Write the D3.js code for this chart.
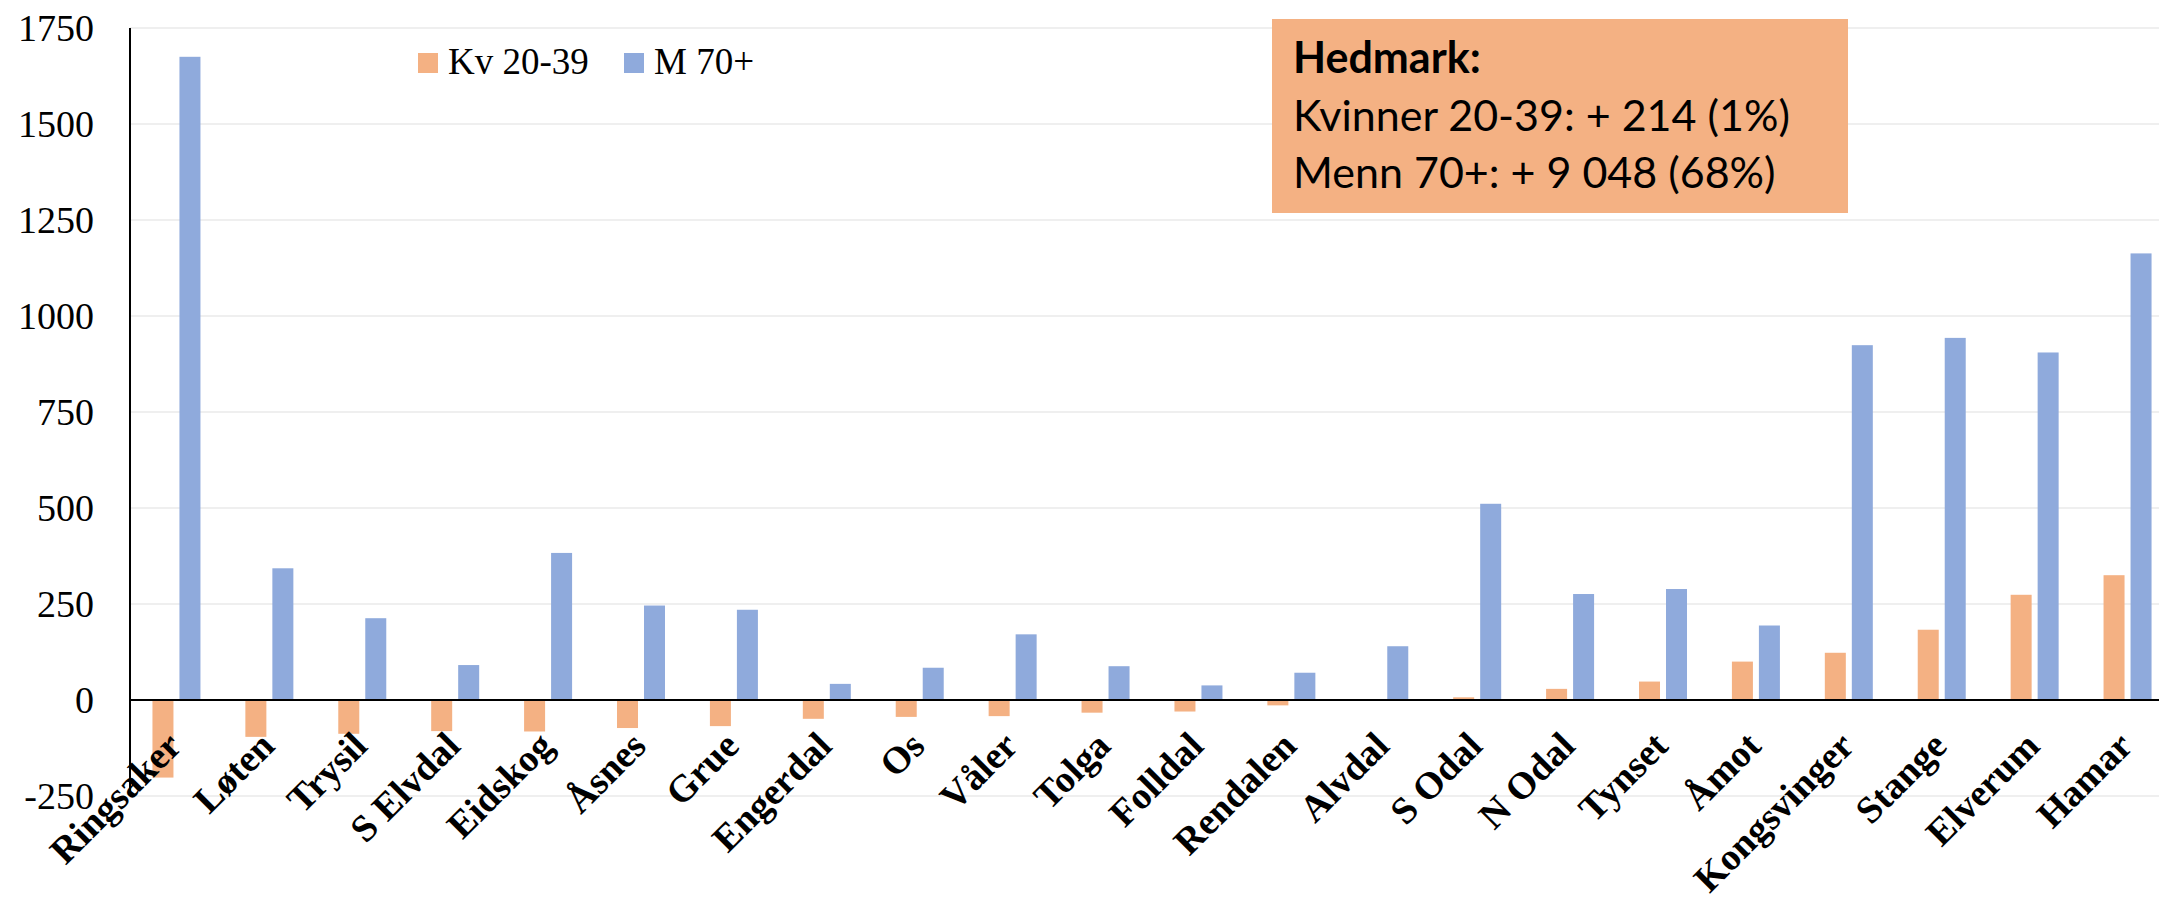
<!DOCTYPE html>
<html>
<head>
<meta charset="utf-8">
<script src="https://cdn.jsdelivr.net/npm/d3@7.9.0/dist/d3.min.js"></script>
<style>
  html, body { margin: 0; padding: 0; background: #fff; }
  svg { display: block; }
</style>
</head>
<body>
<svg id="chart" width="2159" height="899"></svg>
<script>
// categories (kommuner) and values
const kommuner = ["Ringsaker", "Løten", "Trysil", "S Elvdal", "Eidskog", "Åsnes", "Grue",
  "Engerdal", "Os", "Våler", "Tolga", "Folldal", "Rendalen", "Alvdal", "S Odal", "N Odal",
  "Tynset", "Åmot", "Kongsvinger", "Stange", "Elverum", "Hamar"];
const kv2039 = [-202, -96, -88, -81, -82, -73, -68, -49, -44, -42, -33, -30, -14, 0, 7, 29, 48, 100, 123, 183, 274, 325];
const m70 = [1675, 343, 213, 91, 383, 246, 235, 42, 84, 171, 88, 38, 71, 140, 511, 276, 289, 194, 924, 943, 905, 1163];
const seriesNames = ["Kv 20-39", "M 70+"];
const seriesColors = ["#F4B183", "#8FAADC"];
const yTicks = [-250, 0, 250, 500, 750, 1000, 1250, 1500, 1750];
const boxLines = ["Hedmark:", "Kvinner 20-39: + 214 (1%)", "Menn 70+: + 9 048 (68%)"];

const svg = d3.select("#chart");
const plotLeft = 130, plotRight = 2174;   // plot runs past the right edge of the picture

const x = d3.scaleBand().domain(kommuner).range([plotLeft, plotRight]).padding(0);
const x1 = d3.scaleBand().domain(seriesNames).range([-24, 24]).paddingInner(0.222);
const y = d3.scaleLinear().domain([-250, 1750]).range([796, 28]);

// gridlines
svg.append("g")
    .selectAll("line")
    .data(yTicks)
    .join("line")
    .attr("x1", plotLeft)
    .attr("x2", 2159)
    .attr("y1", d => y(d))
    .attr("y2", d => y(d))
    .attr("stroke", "#EFEFEF")
    .attr("stroke-width", 2);

// y tick labels
svg.append("g")
    .selectAll("text")
    .data(yTicks)
    .join("text")
    .attr("x", 94)
    .attr("y", d => y(d))
    .attr("dy", "0.35em")
    .attr("text-anchor", "end")
    .style("font-family", "'Liberation Serif', serif")
    .style("font-size", "38px")
    .attr("fill", "#000")
    .text(d => d);

// bars
const rows = kommuner.map((k, i) => ({ k, vals: [kv2039[i], m70[i]] }));
const groups = svg.append("g")
    .selectAll("g")
    .data(rows)
    .join("g")
    .attr("transform", d => `translate(${x(d.k) + x.bandwidth() / 2},0)`);

groups.selectAll("rect")
    .data(d => d.vals.map((v, j) => ({ s: seriesNames[j], v, j })))
    .join("rect")
    .attr("x", d => x1(d.s))
    .attr("width", x1.bandwidth())
    .attr("y", d => y(Math.max(0, d.v)))
    .attr("height", d => Math.abs(y(d.v) - y(0)))
    .attr("fill", d => seriesColors[d.j]);

// axes lines
svg.append("line")
    .attr("x1", plotLeft).attr("x2", 2159)
    .attr("y1", y(0)).attr("y2", y(0))
    .attr("stroke", "#000").attr("stroke-width", 2);
svg.append("line")
    .attr("x1", plotLeft).attr("x2", plotLeft)
    .attr("y1", y(1750)).attr("y2", y(-250))
    .attr("stroke", "#000").attr("stroke-width", 2);

// category labels, rotated
svg.append("g")
    .selectAll("text")
    .data(kommuner)
    .join("text")
    .attr("transform", d => `translate(${x(d) + x.bandwidth() / 2 + 7},748) rotate(-45)`)
    .attr("text-anchor", "end")
    .style("font-family", "'Liberation Serif', serif")
    .style("font-weight", "bold")
    .style("font-size", "38px")
    .attr("fill", "#000")
    .text(d => d);

// legend
const legend = svg.append("g");
const legendX = [418, 624];
seriesNames.forEach((name, i) => {
    legend.append("rect")
        .attr("x", legendX[i]).attr("y", 53)
        .attr("width", 20).attr("height", 20)
        .attr("fill", seriesColors[i]);
    legend.append("text")
        .attr("x", legendX[i] + 30).attr("y", 74)
        .style("font-family", "'Liberation Serif', serif")
        .style("font-size", "37px")
        .attr("fill", "#000")
        .text(name);
});

// summary box
svg.append("rect")
    .attr("x", 1272).attr("y", 19)
    .attr("width", 576).attr("height", 194)
    .attr("fill", "#F4B183");
const boxBase = [73, 131, 188];
boxLines.forEach((t, i) => {
    svg.append("text")
        .attr("x", 1293).attr("y", boxBase[i])
        .style("font-family", "Lato, sans-serif")
        .style("font-size", "43px")
        .style("font-weight", i === 0 ? "bold" : "normal")
        .attr("fill", "#000")
        .text(t);
});
</script>
</body>
</html>
